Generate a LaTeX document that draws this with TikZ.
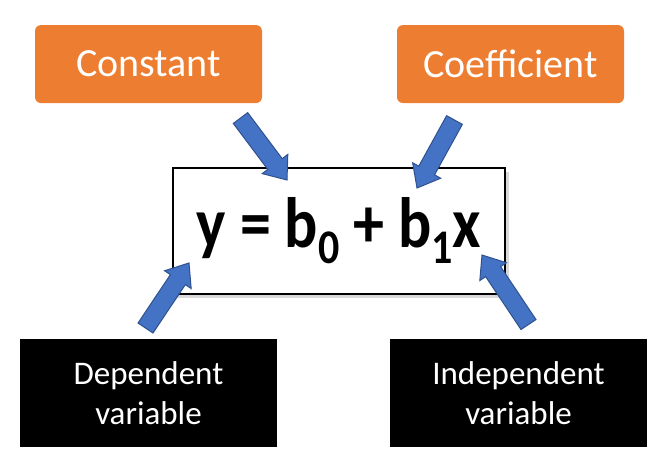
\documentclass[tikz,border=0pt]{standalone}
\usepackage{fontspec}
\setmainfont{Carlito}
\usetikzlibrary{positioning,calc,shadows}
\definecolor{boxorange}{HTML}{ED7D31}
\definecolor{arrowblue}{HTML}{4472C4}
\definecolor{arrowedge}{HTML}{2F528F}
\newcommand\lowidx[1]{\raisebox{-14pt}{\fontsize{42}{42}\selectfont #1}}
\tikzset{x=1pt,y=-1pt,
  term/.style={fill=boxorange,rounded corners=6pt,text=white,inner sep=0pt,
    minimum width=227pt,minimum height=78pt,font=\fontsize{40}{48}\selectfont},
  var/.style={fill=black,text=white,inner sep=0pt,align=center,
    minimum width=257pt,minimum height=108pt,font=\fontsize{33}{40}\selectfont},
  formula/.style={draw,line width=1.5pt,fill=white,inner sep=0pt,
    minimum width=332pt,minimum height=126pt,font=\fontsize{62}{70}\selectfont\bfseries,
    drop shadow={shadow xshift=4pt,shadow yshift=-4pt,opacity=.3}},
  blockarrow/.style={fill=arrowblue,draw=arrowedge,line width=1pt,
    to path={($(\tikztostart)!9pt!90:(\tikztotarget)$)
      -- ($(\tikztotarget)!20pt!(\tikztostart)!9pt!-90:(\tikztostart)$)
      -- ($(\tikztotarget)!20pt!(\tikztostart)!16pt!-90:(\tikztostart)$)
      -- (\tikztotarget)
      -- ($(\tikztotarget)!20pt!(\tikztostart)!16pt!90:(\tikztostart)$)
      -- ($(\tikztotarget)!20pt!(\tikztostart)!9pt!90:(\tikztostart)$)
      -- ($(\tikztostart)!9pt!-90:(\tikztotarget)$) -- cycle}}
}

\begin{document}
\begin{tikzpicture}
  \useasboundingbox (0,0) rectangle (661,467);

  \node[formula] (eq) at (339,231) {\scalebox{1}[1.15]{y = b\lowidx{0} + b\lowidx{1}x}};

  \node[term] (const) [above=64pt of eq,xshift=-190.5pt] {Constant};
  \node[term] (coef) [above=64pt of eq,xshift=171.5pt] {Coefficient};

  \node[var] (dep) [below=44pt of eq,xshift=-190.5pt] {Dependent\\variable};
  \node[var] (indep) [below=44pt of eq,xshift=179.5pt] {Independent\\variable};

  % arrow ends
  \coordinate (s1) at (240.5,118);  \coordinate (t1) at (287,180);
  \coordinate (s2) at (454.5,120);  \coordinate (t2) at (417,188);
  \coordinate (s3) at (145.5,328);  \coordinate (t3) at (189,263);
  \coordinate (s4) at (528.5,324.5); \coordinate (t4) at (482,255);

  \path[blockarrow]
    (s1) to (t1)
    (s2) to (t2)
    (s3) to (t3)
    (s4) to (t4);
\end{tikzpicture}
\end{document}
